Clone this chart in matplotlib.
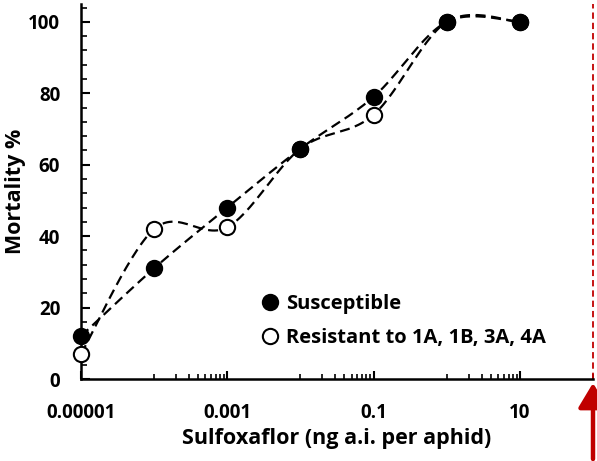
import numpy as np
import matplotlib
matplotlib.use("Agg")
import matplotlib.pyplot as plt
from matplotlib.ticker import FixedLocator, NullFormatter

# ---------------------------
# Data
# ---------------------------
dose = [0.00001, 0.0001, 0.001, 0.01, 0.1, 1, 10]
susceptible = [12, 31, 48, 64.5, 79, 100, 100]
resistant = [7, 42, 42.5, 64.5, 74, 100, 100]
x_ticks = [0.00001, 0.001, 0.1, 10]
x_tick_labels = ["0.00001", "0.001", "0.1", "10"]
y_ticks = [0, 20, 40, 60, 80, 100]
marker_dose = 100  # red dashed line / arrow


def smooth(xs, ys, n=30):
    # Excel-style smoothed line (Catmull-Rom through points, log-x space)
    lx = np.log10(xs)
    py = np.array(ys, dtype=float)
    P = np.column_stack([lx, py])
    P = np.vstack([P[0], P, P[-1]])
    out = []
    t = np.linspace(0, 1, n)[:, None]
    for i in range(1, len(P) - 2):
        p0, p1, p2, p3 = P[i - 1], P[i], P[i + 1], P[i + 2]
        c1 = p1 + (p2 - p0) / 6
        c2 = p2 - (p3 - p1) / 6
        seg = ((1 - t) ** 3) * p1 + 3 * ((1 - t) ** 2) * t * c1 + 3 * (1 - t) * t ** 2 * c2 + t ** 3 * p2
        out.append(seg)
    out = np.vstack(out)
    return 10 ** out[:, 0], out[:, 1]


plt.rcParams["font.family"] = ["Open Sans", "DejaVu Sans"]
plt.rcParams["font.weight"] = "bold"

fig = plt.figure(figsize=(5.97, 4.61), dpi=100)
ax = fig.add_axes([81 / 597, 82 / 461, 512 / 597, 375 / 461])

for yv in [susceptible, resistant]:
    sx, sy = smooth(dose, yv)
    ax.plot(sx, sy, color="black", lw=1.6, ls=(0, (4.5, 2.5)), zorder=2, clip_on=False)

l_res, = ax.plot(dose, resistant, ls="none", marker="o", ms=11, mfc="white", mec="black",
                 mew=1.5, zorder=3, clip_on=False)
l_sus, = ax.plot(dose, susceptible, ls="none", marker="o", ms=11, mfc="black", mec="black",
                 mew=1.5, zorder=4, clip_on=False)

ax.set_xscale("log")
ax.set_xlim(0.00001, 100)
ax.set_ylim(0, 105)

ax.xaxis.set_major_locator(FixedLocator(x_ticks))
ax.set_xticklabels(x_tick_labels)
minor_x = []
for b in [0.00001, 0.001, 0.1]:
    minor_x += [b * k for k in range(10, 100, 10)]
minor_x.append(100)
ax.xaxis.set_minor_locator(FixedLocator(minor_x))
ax.xaxis.set_minor_formatter(NullFormatter())

ax.yaxis.set_major_locator(FixedLocator(y_ticks))
ax.yaxis.set_minor_locator(FixedLocator(list(range(0, 105, 4))))

for s in ["top", "right"]:
    ax.spines[s].set_visible(False)
for s in ["left", "bottom"]:
    ax.spines[s].set_linewidth(1.8)

ax.tick_params(axis="x", which="major", direction="in", length=6, width=1.5, pad=17, labelsize=13.5)
ax.tick_params(axis="x", which="minor", direction="in", length=3.5, width=1.2)
ax.tick_params(axis="y", which="major", direction="in", length=6.5, width=1.5, pad=15, labelsize=13.5)
ax.tick_params(axis="y", which="minor", direction="in", length=4.5, width=1.2)

ax.set_xlabel("Sulfoxaflor (ng a.i. per aphid)", fontsize=15.5, fontweight="bold", va="center")
ax.xaxis.set_label_coords(0.5, (461 - 438 - 82) / 375)
ax.set_ylabel("Mortality %", fontsize=15.5, fontweight="bold", va="center")
ax.yaxis.set_label_coords((16 - 81) / 512, (461 - 191 - 82) / 375)

leg = ax.legend([l_sus, l_res], ["Susceptible", "Resistant to 1A, 1B, 3A, 4A"],
                loc="upper left", bbox_to_anchor=(0.322, 0.248), frameon=False,
                fontsize=14.5, handletextpad=0.0, handlelength=1.6, labelspacing=0.7,
                borderaxespad=0)

# red dashed reference line and arrow
ax.axvline(marker_dose, ymin=0, ymax=1, color="#C00000", lw=1.3, ls=(0, (3.5, 2.2)), clip_on=False)
ax.annotate("", xy=(marker_dose, 78), xytext=(marker_dose, 2),
            xycoords=("data", "figure pixels"), textcoords=("data", "figure pixels"),
            arrowprops=dict(arrowstyle="-|>,head_width=0.45,head_length=0.75", color="#C00000",
                            lw=3.2, mutation_scale=20, shrinkA=0, shrinkB=0),
            annotation_clip=False)

plt.savefig("out.png", dpi=100)
